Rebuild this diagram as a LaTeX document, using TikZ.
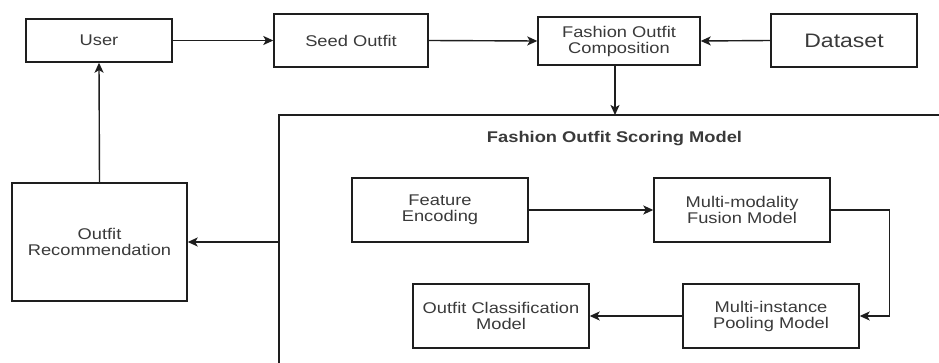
\documentclass[tikz,border=0pt]{standalone}
\usepackage{fontspec}
\setmainfont{Liberation Sans}[FakeStretch=1.18]
\usetikzlibrary{arrows.meta}
\definecolor{txt}{HTML}{3A3A3A}
\definecolor{ln}{HTML}{1E1E1E}
\begin{document}
\begin{tikzpicture}[x=1pt,y=-1pt,
  box/.style={draw=ln,line width=1.4pt,rectangle,inner sep=0pt,align=center,text=txt,
    font=\fontsize{15.5}{16}\selectfont},
  arr/.style={draw=ln,line width=1.4pt,-{Stealth[length=10pt,width=9pt,inset=2.5pt]}},
  plain/.style={draw=ln,line width=1.4pt}]
\useasboundingbox (0,0) rectangle (939,363);
\fill[white] (0,0) rectangle (939,363);
% top row
\node[box,minimum width=146pt,minimum height=43pt] (user) at (99,40.5) {User};
\node[box,minimum width=154pt,minimum height=53pt] (seed) at (351,40.5) {Seed Outfit};
\node[box,minimum width=162pt,minimum height=48pt] (foc) at (619,41) {Fashion Outfit\\Composition};
\node[box,minimum width=146pt,minimum height=53pt,font=\fontsize{19.5}{20}\selectfont] (data) at (844,40.5) {Dataset};
% left
\node[box,minimum width=175pt,minimum height=118pt] (rec) at (99.5,242) {Outfit\\Recommendation};
% scoring model frame
\coordinate (tr) at (939,115);
\coordinate (tl) at (279,115);
\coordinate (bl) at (279,363);
\coordinate (tin) at (615,115);
\coordinate (lout) at (279,242);
\draw[plain] (tr) -- (tl) -- (bl);
\node[text=txt,font=\bfseries\fontsize{15.5}{16}\selectfont] (title) at (614.5,139) {Fashion Outfit Scoring Model};
% inner boxes
\node[box,minimum width=176pt,minimum height=64pt] (fe) at (440,210) {Feature\\Encoding};
\node[box,minimum width=176pt,minimum height=64pt] (mmf) at (742,210) {Multi-modality\\Fusion Model};
\node[box,minimum width=176pt,minimum height=64pt] (mip) at (771,316) {Multi-instance\\Pooling Model};
\node[box,minimum width=176pt,minimum height=64pt] (ocm) at (501,316) {Outfit Classification\\Model};
% connectors
\draw[arr] (user.east) -- (seed.west);
\draw[arr] (seed.east) -- (foc.west);
\draw[arr] (data.west) -- (foc.east);
\draw[arr] (tin |- foc.south) -- (tin);
\draw[arr] (lout) -- (rec.east);
\draw[arr] (rec.north) -- (user.south);
\draw[arr] (fe.east) -- (mmf.west);
\draw[arr] (mmf.east) -- ++(59,0) |- (mip.east);
\draw[arr] (mip.west) -- (ocm.east);
\end{tikzpicture}
\end{document}
